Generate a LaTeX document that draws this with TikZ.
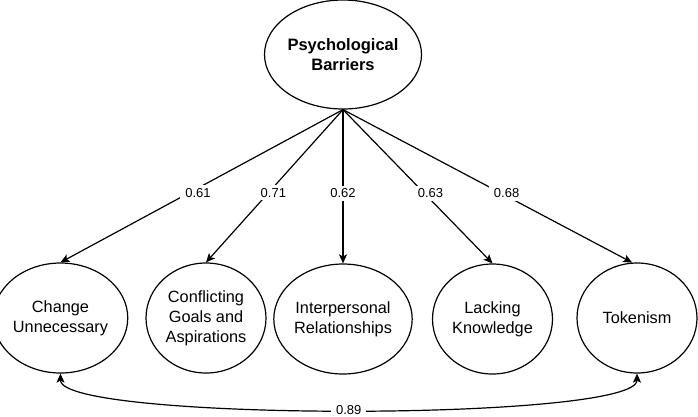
\documentclass[tikz,border=0pt]{standalone}
\usepackage{fontspec}
\setmainfont{Liberation Sans}
\usetikzlibrary{shapes.geometric,arrows.meta}
\begin{document}
\begin{tikzpicture}[x=1pt,y=-1pt,
  lat/.style={draw=black,line width=1.2pt,ellipse,inner sep=0pt,align=center,
    font=\fontsize{16.5}{20}\selectfont\bfseries,minimum width=157pt,minimum height=109pt},
  obs/.style={draw=black,line width=1.2pt,ellipse,inner sep=0pt,align=center,
    font=\fontsize{16.3}{20}\selectfont,minimum width=120pt,minimum height=110pt},
  path/.style={line width=1.2pt,-{Stealth[length=9pt,width=8pt,inset=2pt]}},
  coef/.style={fill=white,inner xsep=5pt,inner ysep=3pt,font=\fontsize{13}{14}\selectfont}]
\useasboundingbox (0,0) rectangle (698,416);
\node[lat] (pb) at (343,54.5) {Psychological\\Barriers};
\node[obs] (cu) at (60.5,318) {Change\\Unnecessary};
\node[obs] (cg) at (206,318) {Conflicting\\Goals and\\Aspirations};
\node[obs] (ir) at (343,319) {Interpersonal\\Relationships};
\node[obs] (lk) at (492.5,319) {Lacking\\Knowledge};
\node[obs] (tk) at (637,318) {Tokenism};
\draw[path] (pb.south) -- node[coef,pos=0.545,xshift=9pt] {0.61} (cu.north);
\draw[path] (pb.south) -- node[coef,pos=0.545,xshift=5pt] {0.71} (cg.north);
\draw[path] (pb.south) -- node[coef,pos=0.545] {0.62} (ir.north);
\draw[path] (pb.south) -- node[coef,pos=0.545,xshift=6pt] {0.63} (lk.north);
\draw[path] (pb.south) -- node[coef,pos=0.545,xshift=6pt] {0.68} (tk.95);
\draw[line width=1.2pt,{Stealth[length=9pt,width=8pt,inset=2pt]}-{Stealth[length=9pt,width=8pt,inset=2pt]}]
  (cu.south) .. controls +(0,48) and +(0,48) .. node[coef,pos=0.5] {0.89} (tk.south);
\end{tikzpicture}
\end{document}
